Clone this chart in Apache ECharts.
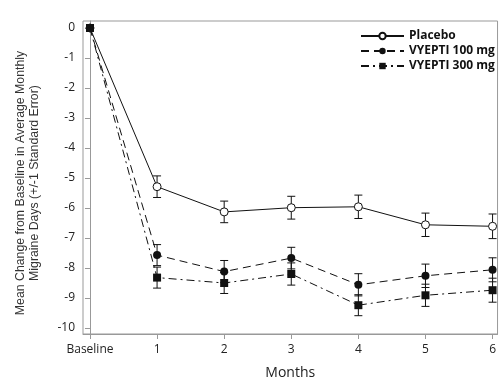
<!DOCTYPE html>
<html><head><meta charset="utf-8">
<script src="https://cdn.jsdelivr.net/npm/echarts@6/dist/echarts.min.js"></script>
<style>html,body{margin:0;padding:0;background:#fff}#c{width:499px;height:385px}</style>
</head><body><div id="c"></div>
<script>
var tickLabels = ["Baseline","1","2","3","4","5","6"];
var yTicks = [0,-1,-2,-3,-4,-5,-6,-7,-8,-9,-10];
var seriesNames = ["Placebo","VYEPTI 100 mg","VYEPTI 300 mg"];
var placeboMean = [0,-5.29,-6.13,-5.99,-5.96,-6.56,-6.61];
var placeboSE   = [0,0.36,0.36,0.38,0.39,0.39,0.41];
var v100Mean = [0,-7.57,-8.12,-7.67,-8.56,-8.26,-8.06];
var v100SE   = [0,0.35,0.37,0.36,0.37,0.39,0.40];
var v300Mean = [0,-8.32,-8.50,-8.20,-9.24,-8.91,-8.74];
var v300SE   = [0,0.35,0.35,0.37,0.35,0.37,0.40];

function pts(m){ return m.map(function(v,i){ return [i,v]; }); }
function errs(m,s){ var out=[]; m.forEach(function(v,i){ if(i>0) out.push([i, v-s[i], v+s[i]]); }); return out; }
var black = '#111';
function errSeries(m,s){
  return {
    type:'custom', silent:true, z:3,
    data: errs(m,s),
    renderItem: function(params, api){
      var x=api.value(0), lo=api.value(1), hi=api.value(2);
      var a=api.coord([x,hi]), b=api.coord([x,lo]); var w=4;
      var st={stroke:black,lineWidth:1};
      return {type:'group',children:[
        {type:'line',shape:{x1:a[0],y1:a[1],x2:b[0],y2:b[1]},style:st},
        {type:'line',shape:{x1:a[0]-w,y1:a[1],x2:a[0]+w,y2:a[1]},style:st},
        {type:'line',shape:{x1:b[0]-w,y1:b[1],x2:b[0]+w,y2:b[1]},style:st}
      ]};
    }
  };
}
var font = '"Open Sans", sans-serif';
var chart = echarts.init(document.getElementById('c'));
chart.setOption({
  animation:false,
  backgroundColor:'#fff',
  grid:{left:83, right:0, top:21, bottom:50, show:true, borderColor:'#999', borderWidth:1},
  legend:{
    orient:'vertical', left:355, top:25, itemWidth:43, itemHeight:8, itemGap:3,
    textStyle:{fontFamily:font, fontWeight:'bold', fontSize:12, color:'#111'},
    data: seriesNames
  },
  xAxis:{
    type:'value', min:-0.104, max:6.074,
    name:'Months', nameLocation:'middle', nameGap:32,
    nameTextStyle:{fontFamily:font, fontSize:14, color:'#222'},
    axisLine:{onZero:false, lineStyle:{color:'#999'}},
    axisTick:{show:true, length:5, lineStyle:{color:'#999'}, customValues:[0,1,2,3,4,5,6]},
    axisLabel:{fontFamily:font, fontSize:12, color:'#222', margin:10, customValues:[0,1,2,3,4,5,6],
      formatter:function(v){ return tickLabels[Math.round(v)]; }},
    splitLine:{show:false}
  },
  yAxis:{
    type:'value', min:-10.2, max:0.233,
    axisLine:{show:true, lineStyle:{color:'#999'}},
    axisTick:{show:true, length:5, lineStyle:{color:'#999'}, customValues:yTicks},
    axisLabel:{fontFamily:font, fontSize:12, color:'#222', margin:8, customValues:yTicks},
    splitLine:{show:false}
  },
  graphic:[{
    type:'text', rotation:Math.PI/2, x:14, y:183,
    style:{text:'Mean Change from Baseline in Average Monthly\nMigraine Days (+/-1 Standard Error)',
      font:'12.3px "Liberation Sans", Arial, sans-serif', fill:'#333', align:'center', verticalAlign:'top', lineHeight:14}
  }],
  series:[
    {name:seriesNames[0], type:'line', data:pts(placeboMean), symbol:'circle', symbolSize:8, z:5,
      lineStyle:{color:black, width:1, type:'solid'}, itemStyle:{color:'#fff', borderColor:black, borderWidth:1}},
    {name:seriesNames[1], type:'line', data:pts(v100Mean), symbol:'circle', symbolSize:8, z:5,
      lineStyle:{color:black, width:1, type:[8,5]}, itemStyle:{color:black}},
    {name:seriesNames[2], type:'line', data:pts(v300Mean), symbol:'rect', symbolSize:8, z:5,
      lineStyle:{color:black, width:1, type:[8,4,2,4]}, itemStyle:{color:black}},
    errSeries(placeboMean, placeboSE),
    errSeries(v100Mean, v100SE),
    errSeries(v300Mean, v300SE)
  ]
});
</script></body></html>
